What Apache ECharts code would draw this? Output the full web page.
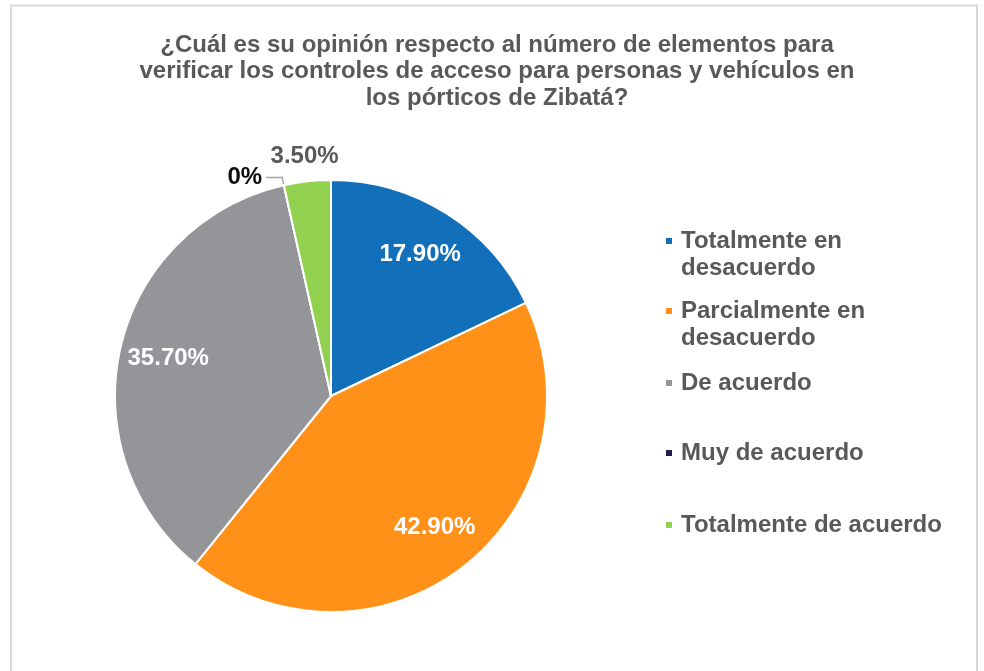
<!DOCTYPE html>
<html>
<head>
<meta charset="utf-8">
<script src="https://cdn.jsdelivr.net/npm/echarts@6/dist/echarts.min.js"></script>
<style>
  html, body { margin: 0; padding: 0; background: #fff; }
  #chart { width: 984px; height: 671px; }
</style>
</head>
<body>
<div id="chart"></div>
<script>
// datos de la encuesta
var categorias = ['Totalmente en desacuerdo', 'Parcialmente en desacuerdo', 'De acuerdo', 'Muy de acuerdo', 'Totalmente de acuerdo'];
var etiquetasLeyenda = ['Totalmente en\ndesacuerdo', 'Parcialmente en\ndesacuerdo', 'De acuerdo', 'Muy de acuerdo', 'Totalmente de acuerdo'];
var porcentajes = [17.9, 42.9, 35.7, 0, 3.5];
var colores = ['#1170b9', '#ff9119', '#939598', '#221f4f', '#92d050'];

var chart = echarts.init(document.getElementById('chart'));

var fuente = '"Liberation Sans", Arial, sans-serif';
var tam = 24;
var centro = [331, 396];
var radio = 216;

function formato(v) {
    return v === 0 ? '0%' : v.toFixed(2) + '%';
}

var datos = categorias.map(function (c, i) {
    return { name: c, value: porcentajes[i], itemStyle: { color: colores[i] } };
});

// leyendas: una por categoria para dejar el marcador en la primera linea
var centrosLeyenda = [241, 311, 383, 453, 525];
var leyendas = categorias.map(function (c, i) {
    var dosLineas = etiquetasLeyenda[i].indexOf('\n') >= 0;
    return {
        orient: 'vertical',
        left: 664,
        top: centrosLeyenda[i] - (dosLineas ? 40.5 : 13.5),
        padding: 0,
        itemWidth: 8,
        itemHeight: 8,
        itemGap: 0,
        icon: 'rect',
        data: [c],
        // linea vacia arriba para centrar la primera linea con el marcador
        formatter: function () { return dosLineas ? ' \n' + etiquetasLeyenda[i] : etiquetasLeyenda[i]; },
        textStyle: {
            fontFamily: fuente,
            fontSize: tam,
            fontWeight: 'bold',
            color: '#595959',
            lineHeight: 27,
            padding: [0, 0, 0, 3]
        }
    };
});

var option = {
    animation: false,
    title: {
        text: '¿Cuál es su opinión respecto al número de elementos para\nverificar los controles de acceso para personas y vehículos en\nlos pórticos de Zibatá?',
        left: 492,
        textAlign: 'center',
        top: 27,
        textStyle: {
            fontFamily: fuente,
            fontSize: tam,
            fontWeight: 'bold',
            color: '#595959',
            lineHeight: 26.5
        }
    },
    legend: leyendas,
    graphic: [{
        type: 'rect',
        silent: true,
        shape: { x: 11, y: 5.5, width: 966, height: 700 },
        style: { fill: 'none', stroke: '#d9d9d9', lineWidth: 2 }
    }],
    series: [
        {
            name: 'opinion',
            type: 'pie',
            center: centro,
            radius: [0, radio],
            startAngle: 90,
            avoidLabelOverlap: false,
            itemStyle: { borderColor: '#fff', borderWidth: 2 },
            label: { show: false },
            labelLine: { show: false },
            data: datos.map(function (d) {
                if (d.value !== 0) return d;
                // etiqueta con linea guia para el 0%
                return Object.assign({}, d, {
                    label: {
                        show: true,
                        position: 'outside',
                        formatter: function (p) { return formato(p.value); },
                        fontFamily: fuente,
                        fontSize: tam,
                        fontWeight: 'bold',
                        color: '#0d0d0d',
                        distanceToLabelLine: 4
                    },
                    labelLine: {
                        show: true,
                        length: 8,
                        length2: 16,
                        lineStyle: { color: '#a6a6a6', width: 1.5 }
                    }
                });
            })
        },
        {
            // etiquetas interiores
            name: 'etiquetas',
            type: 'pie',
            center: centro,
            radius: [0, radio * 1.52],
            startAngle: 90,
            silent: true,
            avoidLabelOverlap: false,
            itemStyle: { color: 'rgba(0,0,0,0)', borderWidth: 0 },
            emphasis: { disabled: true },
            labelLine: { show: false },
            label: {
                position: 'inside',
                fontFamily: fuente,
                fontSize: tam,
                fontWeight: 'bold',
                color: '#fff',
                formatter: function (p) { return p.value >= 10 ? formato(p.value) : ''; }
            },
            data: categorias.map(function (c, i) { return { name: c, value: porcentajes[i] }; })
        },
        {
            // etiqueta exterior del segmento pequeno
            name: 'etiquetasExt',
            type: 'pie',
            center: centro,
            radius: [radio, radio + 44],
            startAngle: 90,
            silent: true,
            avoidLabelOverlap: false,
            itemStyle: { color: 'rgba(0,0,0,0)', borderWidth: 0 },
            emphasis: { disabled: true },
            labelLine: { show: false },
            label: {
                position: 'inside',
                fontFamily: fuente,
                fontSize: tam,
                fontWeight: 'bold',
                color: '#595959',
                formatter: function (p) { return p.value > 0 && p.value < 10 ? formato(p.value) : ''; }
            },
            data: categorias.map(function (c, i) { return { name: c, value: porcentajes[i] }; })
        }
    ]
};

chart.setOption(option);
</script>
</body>
</html>
